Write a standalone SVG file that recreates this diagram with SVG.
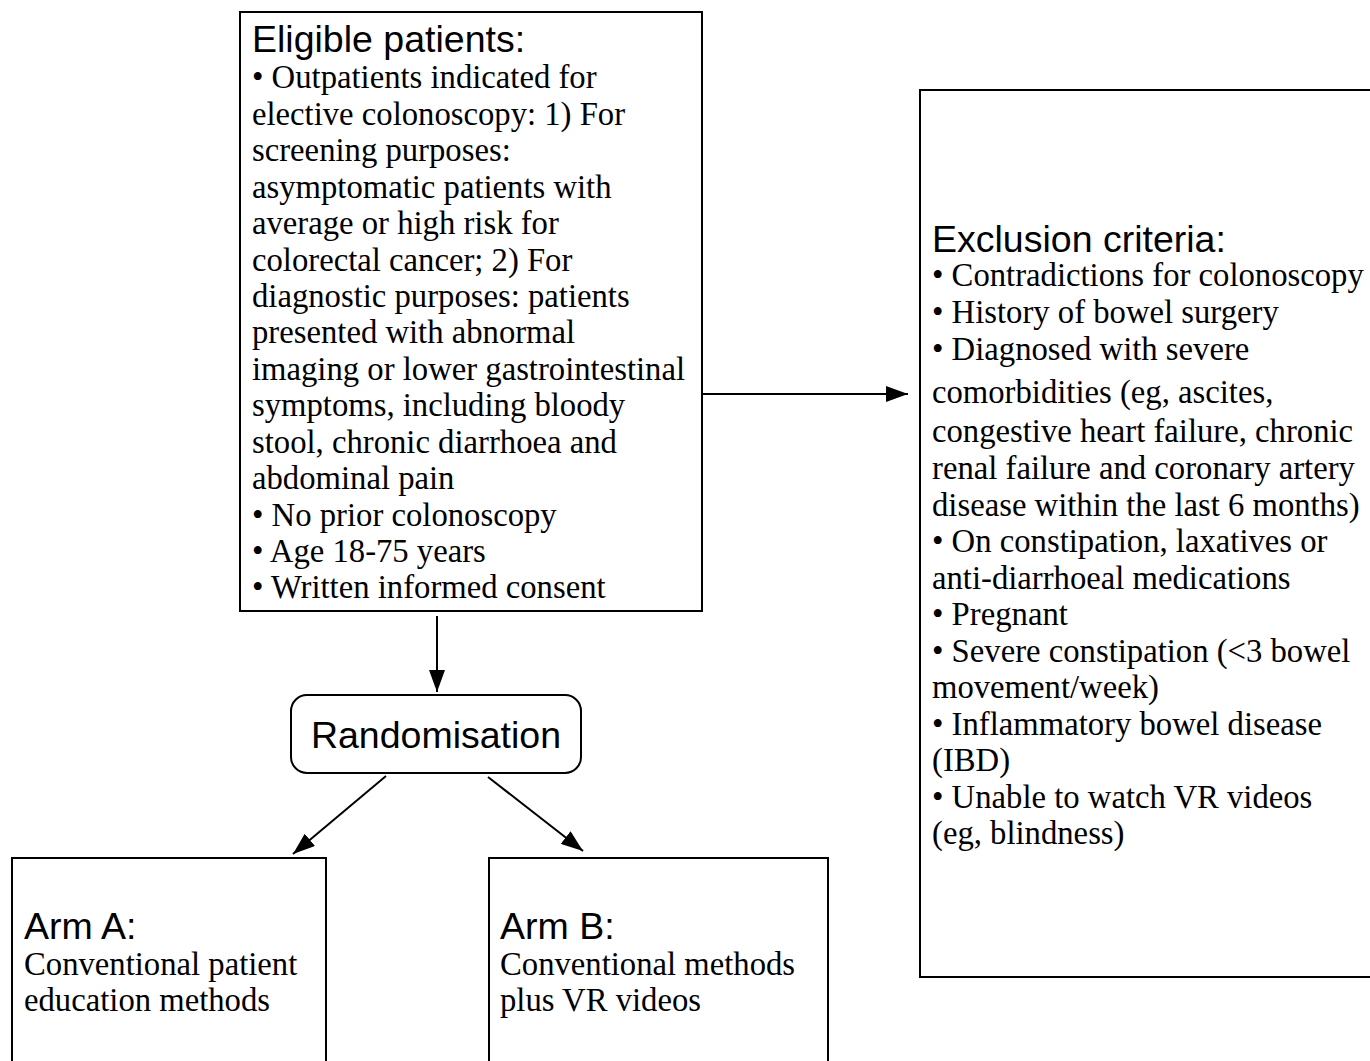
<svg xmlns="http://www.w3.org/2000/svg" width="1370" height="1061" viewBox="0 0 1370 1061">
<style>
.box{fill:#fff;stroke:#000;stroke-width:2}
.h{font-family:"Liberation Sans",Arial,sans-serif;font-size:37.5px;fill:#000}
.b{font-family:"Liberation Serif","Times New Roman",serif;font-size:32.7px;fill:#000}
.c{stroke:#000;stroke-width:2;fill:none}
</style>
<defs>
<marker id="ahl" viewBox="0 0 22 16" refX="22" refY="8" markerWidth="22" markerHeight="16" markerUnits="userSpaceOnUse" orient="auto">
<path d="M0,0 L22,8 L0,16 z" fill="#000"/>
</marker>
</defs>
<rect width="1370" height="1061" fill="#fff"/>
<g id="connectors">
<line class="c" x1="437" y1="616" x2="437" y2="692" marker-end="url(#ahl)"/>
<line class="c" x1="702" y1="394" x2="908" y2="394" marker-end="url(#ahl)"/>
<line class="c" x1="386" y1="776" x2="293" y2="854" marker-end="url(#ahl)"/>
<line class="c" x1="488" y1="777" x2="583" y2="851" marker-end="url(#ahl)"/>
</g>
<g id="eligible">
<rect class="box" x="240" y="12" width="462" height="599"/>
<text class="h" x="252" y="52">Eligible patients:</text>
<text class="b" x="252" y="88">• Outpatients indicated for</text>
<text class="b" x="252" y="125">elective colonoscopy: 1) For</text>
<text class="b" x="252" y="161">screening purposes:</text>
<text class="b" x="252" y="198">asymptomatic patients with</text>
<text class="b" x="252" y="234">average or high risk for</text>
<text class="b" x="252" y="271">colorectal cancer; 2) For</text>
<text class="b" x="252" y="307">diagnostic purposes: patients</text>
<text class="b" x="252" y="343">presented with abnormal</text>
<text class="b" x="252" y="380">imaging or lower gastrointestinal</text>
<text class="b" x="252" y="416">symptoms, including bloody</text>
<text class="b" x="252" y="453">stool, chronic diarrhoea and</text>
<text class="b" x="252" y="489">abdominal pain</text>
<text class="b" x="252" y="526">• No prior colonoscopy</text>
<text class="b" x="252" y="562">• Age 18-75 years</text>
<text class="b" x="252" y="598">• Written informed consent</text>
</g>
<g id="exclusion">
<rect class="box" x="920" y="90" width="470" height="887"/>
<text class="h" x="932" y="252">Exclusion criteria:</text>
<text class="b" x="932" y="286">• Contradictions for colonoscopy</text>
<text class="b" x="932" y="323">• History of bowel surgery</text>
<text class="b" x="932" y="360">• Diagnosed with severe</text>
<text class="b" x="932" y="403">comorbidities (eg, ascites,</text>
<text class="b" x="932" y="442">congestive heart failure, chronic</text>
<text class="b" x="932" y="479">renal failure and coronary artery</text>
<text class="b" x="932" y="516">disease within the last 6 months)</text>
<text class="b" x="932" y="552">• On constipation, laxatives or</text>
<text class="b" x="932" y="589">anti-diarrhoeal medications</text>
<text class="b" x="932" y="625">• Pregnant</text>
<text class="b" x="932" y="662">• Severe constipation (&lt;3 bowel</text>
<text class="b" x="932" y="698">movement/week)</text>
<text class="b" x="932" y="735">• Inflammatory bowel disease</text>
<text class="b" x="932" y="771">(IBD)</text>
<text class="b" x="932" y="808">• Unable to watch VR videos</text>
<text class="b" x="932" y="844">(eg, blindness)</text>
</g>
<g id="randomisation">
<rect class="box" x="291" y="695" width="290" height="78" rx="16"/>
<text class="h" x="436" y="748" text-anchor="middle">Randomisation</text>
</g>
<g id="armA">
<rect class="box" x="12" y="858" width="314" height="220"/>
<text class="h" x="24" y="939">Arm A:</text>
<text class="b" x="24" y="975">Conventional patient</text>
<text class="b" x="24" y="1011">education methods</text>
</g>
<g id="armB">
<rect class="box" x="489" y="858" width="339" height="220"/>
<text class="h" x="500" y="939">Arm B:</text>
<text class="b" x="500" y="975">Conventional methods</text>
<text class="b" x="500" y="1011">plus VR videos</text>
</g>
</svg>
